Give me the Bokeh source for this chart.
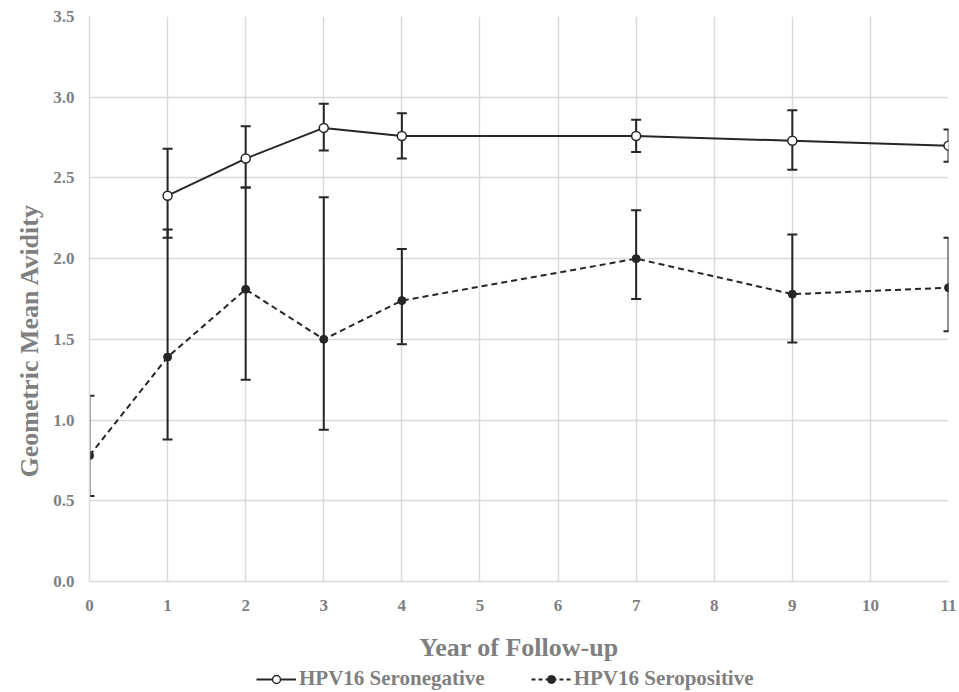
from bokeh.plotting import figure
from bokeh.layouts import column
from bokeh.models import (ColumnDataSource, Whisker, TeeHead, Legend, LegendItem, FixedTicker,
                          NumeralTickFormatter, Range1d, Title)
from bokeh.embed import file_html
from bokeh.resources import INLINE

years_neg = [1, 2, 3, 4, 7, 9, 11]
neg_mean = [2.39, 2.62, 2.81, 2.76, 2.76, 2.73, 2.70]
neg_upper = [2.68, 2.82, 2.96, 2.90, 2.86, 2.92, 2.80]
neg_lower = [2.13, 2.44, 2.67, 2.62, 2.66, 2.55, 2.60]

years_pos = [0, 1, 2, 3, 4, 7, 9, 11]
pos_mean = [0.78, 1.39, 1.81, 1.50, 1.74, 2.00, 1.78, 1.82]
pos_upper = [1.15, 2.18, 2.44, 2.38, 2.06, 2.30, 2.15, 2.13]
pos_lower = [0.53, 0.88, 1.25, 0.94, 1.47, 1.75, 1.48, 1.55]

x_ticks = list(range(0, 12))
y_ticks = [0, 0.5, 1.0, 1.5, 2.0, 2.5, 3.0, 3.5]

series_labels = ["HPV16 Seronegative", "HPV16 Seropositive"]

FONT = "Liberation Serif"
GREY = "#7f7f7f"
DARK = "#262626"

p = figure(width=959, height=664, output_backend="svg", toolbar_location=None,
           x_range=Range1d(0, 11), y_range=Range1d(0, 3.5))
p.min_border_left = 89
p.min_border_top = 16
p.min_border_right = 11
p.min_border_bottom = 82
p.outline_line_color = None
p.background_fill_color = "white"

p.xgrid.grid_line_color = "#d9d9d9"
p.ygrid.grid_line_color = "#d9d9d9"
p.xgrid.grid_line_width = 1.5
p.ygrid.grid_line_width = 1.5

for ax in (p.xaxis[0], p.yaxis[0]):
    ax.axis_line_color = "#d9d9d9"
    ax.axis_line_width = 1.5
    ax.major_tick_line_color = None
    ax.minor_tick_line_color = None
    ax.major_tick_out = 0
    ax.major_tick_in = 0
    ax.minor_tick_out = 0
    ax.major_label_text_font = FONT
    ax.major_label_text_font_style = "bold"
    ax.major_label_text_color = GREY
    ax.major_label_text_font_size = "17px"
    ax.axis_label_text_font = FONT
    ax.axis_label_text_font_style = "bold"
    ax.axis_label_text_color = GREY
    ax.axis_label_text_font_size = "26px"

p.xaxis.ticker = FixedTicker(ticks=x_ticks)
p.yaxis.ticker = FixedTicker(ticks=y_ticks)
p.yaxis.formatter = NumeralTickFormatter(format="0.0")
p.xaxis.axis_label = "Year of Follow-up"
p.xaxis.major_label_standoff = 18
p.yaxis.major_label_standoff = 15
p.xaxis.axis_label_standoff = 19

ytitle = Title(text="Geometric Mean Avidity", align="left", offset=104,
               text_font=FONT, text_font_style="bold", text_color=GREY,
               text_font_size="26px", standoff=14)
p.add_layout(ytitle, "left")

src_neg = ColumnDataSource(dict(x=years_neg, y=neg_mean, up=neg_upper, lo=neg_lower))
src_pos = ColumnDataSource(dict(x=years_pos, y=pos_mean, up=pos_upper, lo=pos_lower))

for src in (src_pos, src_neg):
    w = Whisker(source=src, base="x", upper="up", lower="lo",
                line_color=DARK, line_width=2,
                upper_head=TeeHead(size=10, line_color=DARK, line_width=2),
                lower_head=TeeHead(size=10, line_color=DARK, line_width=2))
    p.add_layout(w)

p.line("x", "y", source=src_pos, line_color=DARK, line_width=2, line_dash="6 4")
p.scatter("x", "y", source=src_pos, size=8, fill_color=DARK, line_color=DARK)
p.line("x", "y", source=src_neg, line_color=DARK, line_width=2)
p.scatter("x", "y", source=src_neg, size=9, fill_color="white", line_color=DARK, line_width=1.5)

# legend strip below the chart (its data lies outside the strip's ranges, only the legend shows)
lg = figure(width=959, height=28, output_backend="svg", toolbar_location=None,
            x_range=Range1d(100, 101), y_range=Range1d(100, 101),
            x_axis_location=None, y_axis_location=None)
lg.min_border_left = 0
lg.min_border_right = 0
lg.min_border_top = 0
lg.min_border_bottom = 0
lg.outline_line_color = None
lg.grid.visible = False
gl_neg = lg.line("x", "y", source=src_neg, line_color=DARK, line_width=2)
gm_neg = lg.scatter("x", "y", source=src_neg, size=9, fill_color="white", line_color=DARK, line_width=1.5)
gl_pos = lg.line("x", "y", source=src_pos, line_color=DARK, line_width=2, line_dash="4 3")
gm_pos = lg.scatter("x", "y", source=src_pos, size=8, fill_color=DARK, line_color=DARK)

legend = Legend(items=[
    LegendItem(label=series_labels[0], renderers=[gl_neg, gm_neg]),
    LegendItem(label=series_labels[1], renderers=[gl_pos, gm_pos]),
], orientation="horizontal", location=(167, 1))
legend.label_text_font = FONT
legend.label_text_font_style = "bold"
legend.label_text_color = GREY
legend.label_text_font_size = "21px"
legend.label_height = 20
legend.glyph_height = 20
legend.border_line_color = None
legend.background_fill_alpha = 0
legend.glyph_width = 40
legend.spacing = 46
legend.label_standoff = 3
legend.padding = 0
legend.margin = 0
lg.add_layout(legend, "center")

layout = column(p, lg, spacing=0)
open("out.html", "w").write(file_html(layout, INLINE))
